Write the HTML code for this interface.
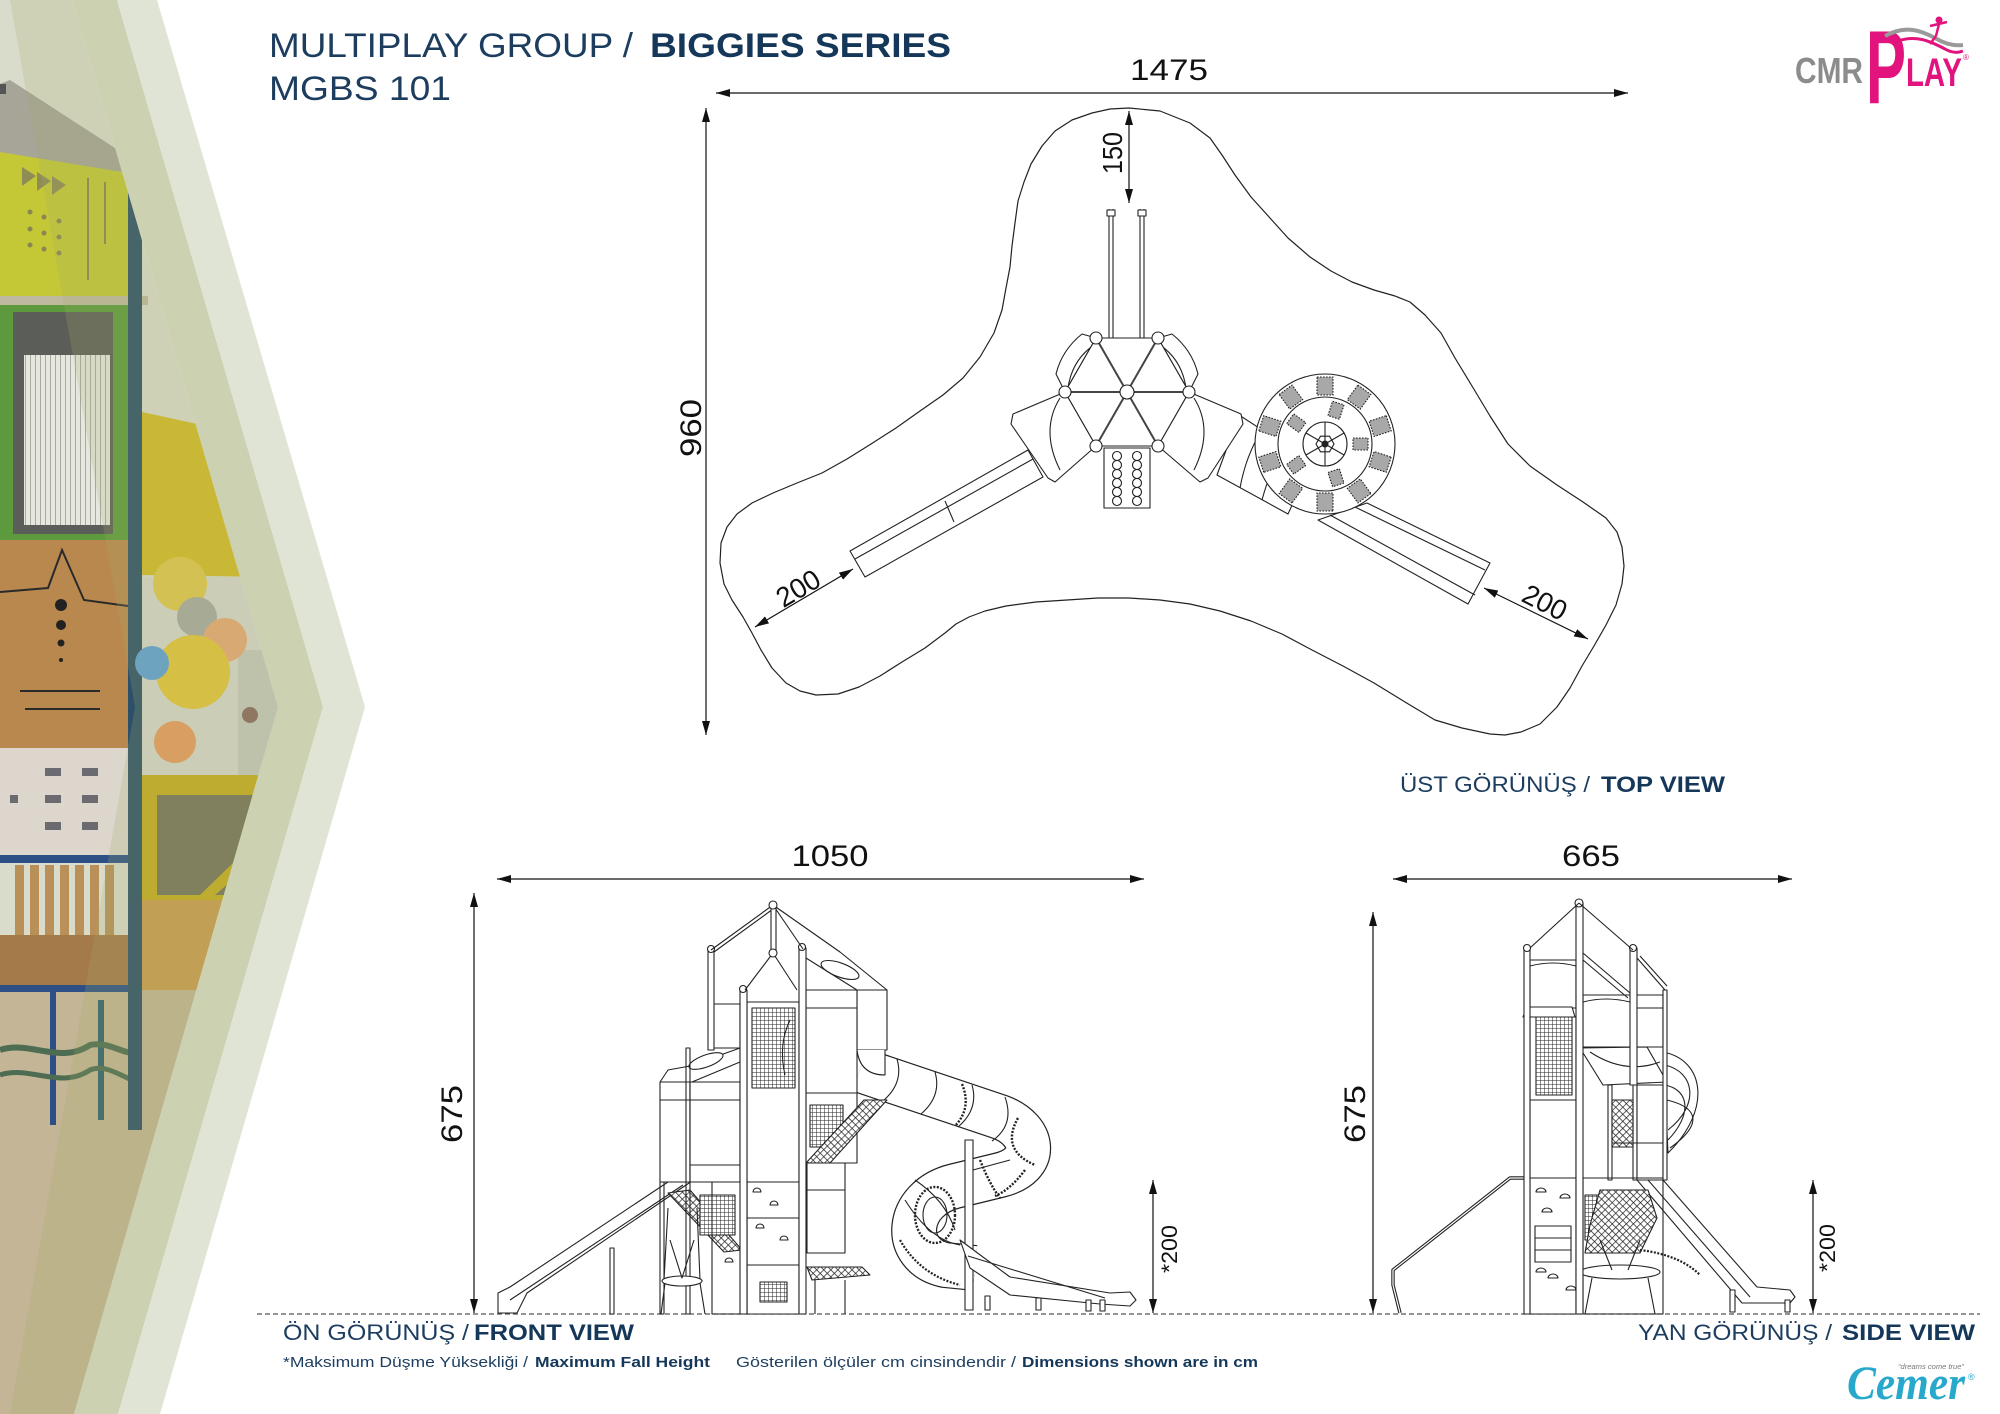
<!DOCTYPE html>
<html><head><meta charset="utf-8">
<style>
html,body{margin:0;padding:0;background:#fff;}
svg{display:block;}
text{font-family:"Liberation Sans",sans-serif;}
</style></head><body>
<svg width="2000" height="1414" viewBox="0 0 2000 1414" xmlns="http://www.w3.org/2000/svg">
<defs>
 <marker id="ar" viewBox="0 0 14 8" refX="14" refY="4" markerWidth="14" markerHeight="8" markerUnits="userSpaceOnUse" orient="auto-start-reverse"><path d="M0,0 L14,4 L0,8 z" fill="#111"/></marker>
 <pattern id="grid" width="4" height="4" patternUnits="userSpaceOnUse"><rect width="4" height="4" fill="#fff"/><path d="M0,0H4M0,0V4" stroke="#222" stroke-width="1"/></pattern>
 <pattern id="net" width="5" height="5" patternUnits="userSpaceOnUse" patternTransform="rotate(45)"><rect width="5" height="5" fill="#fff"/><path d="M0,0H5M0,0V5" stroke="#222" stroke-width="1.4"/></pattern>
 <pattern id="vmesh" width="5" height="6" patternUnits="userSpaceOnUse"><rect width="5" height="6" fill="#e6e7df"/><path d="M0,0V6" stroke="#6a6c66" stroke-width="1"/></pattern>
 <clipPath id="pc"><polygon points="0,0 72,0 278,707 74,1414 0,1414"/></clipPath>
</defs>

<rect width="2000" height="1414" fill="#ffffff"/>

<!-- ================= LEFT PHOTO PANEL ================= -->
<g clip-path="url(#pc)">
 <rect width="300" height="1414" fill="#dadccb"/>
 <polygon points="0,84 10,80 118,150 125,172 0,160" fill="#a6a598"/>
 <rect x="0" y="84" width="6" height="10" fill="#555"/>
 <polygon points="0,152 122,172 128,180 128,308 0,308" fill="#c4c736"/>
 <polygon points="22,167 36,176 22,186" fill="#8f8c55"/>
 <polygon points="37,172 51,181 37,191" fill="#8f8c55"/>
 <polygon points="52,176 66,185 52,195" fill="#8f8c55"/>
 <g fill="#8a8650"><circle cx="30" cy="212" r="2.5"/><circle cx="44" cy="217" r="2.5"/><circle cx="59" cy="221" r="2.5"/><circle cx="30" cy="229" r="2.5"/><circle cx="44" cy="233" r="2.5"/><circle cx="59" cy="237" r="2.5"/><circle cx="30" cy="245" r="2.5"/><circle cx="44" cy="249" r="2.5"/><circle cx="59" cy="253" r="2.5"/></g>
 <rect x="87" y="178" width="2" height="102" fill="#8a8650"/>
 <rect x="104" y="182" width="2" height="62" fill="#8a8650"/>
 <rect x="0" y="300" width="128" height="242" fill="#5d9a3d"/>
 <rect x="0" y="296" width="148" height="9" fill="#bfb9a0"/>
 <rect x="13" y="312" width="100" height="222" fill="#5b5e58"/>
 <rect x="24" y="355" width="86" height="170" fill="url(#vmesh)"/>
 <rect x="0" y="540" width="128" height="208" fill="#b9884f"/>
 <polyline points="0,592 48,588 62,550 84,600 128,606" fill="none" stroke="#2a2a2a" stroke-width="2"/>
 <circle cx="61" cy="605" r="6" fill="#222"/><circle cx="61" cy="625" r="5" fill="#222"/><circle cx="61" cy="643" r="3.5" fill="#222"/><circle cx="61" cy="660" r="2" fill="#222"/>
 <rect x="20" y="690" width="80" height="2" fill="#2a2a2a"/><rect x="25" y="708" width="75" height="2" fill="#2a2a2a"/>
 <rect x="0" y="748" width="128" height="108" fill="#dcd6cc"/>
 <g fill="#6a6a70"><rect x="45" y="768" width="16" height="8"/><rect x="82" y="768" width="16" height="8"/><rect x="45" y="795" width="16" height="8"/><rect x="82" y="795" width="16" height="8"/><rect x="45" y="822" width="16" height="8"/><rect x="82" y="822" width="16" height="8"/><rect x="10" y="795" width="8" height="8"/></g>
 <rect x="0" y="855" width="128" height="8" fill="#2c4f86"/>
 <g fill="#b89058"><rect x="15" y="865" width="9" height="70"/><rect x="30" y="865" width="9" height="70"/><rect x="45" y="865" width="9" height="70"/><rect x="60" y="865" width="9" height="70"/><rect x="75" y="865" width="9" height="70"/><rect x="90" y="865" width="9" height="70"/><rect x="105" y="865" width="9" height="70"/></g>
 <rect x="0" y="935" width="128" height="55" fill="#a57a4a"/>
 <rect x="0" y="990" width="300" height="424" fill="#c3b595"/>
 <rect x="0" y="985" width="140" height="7" fill="#2c4f86"/>
 <rect x="50" y="985" width="6" height="140" fill="#2c4f86"/>
 <rect x="98" y="1000" width="6" height="120" fill="#2f6070"/>
 <path d="M0,1050 C30,1040 60,1065 90,1045 C110,1040 130,1060 140,1050" stroke="#4d6c52" stroke-width="6" fill="none"/>
 <path d="M0,1075 C30,1065 60,1090 90,1070 C110,1062 130,1085 140,1080" stroke="#4d6c52" stroke-width="5" fill="none"/>
 <rect x="128" y="178" width="14" height="952" fill="#2d506a"/>
 <polygon points="142,412 270,440 270,577 142,575" fill="#d2bb28"/>
 <rect x="142" y="577" width="140" height="198" fill="#d6d7cc"/>
 <rect x="238" y="650" width="44" height="125" fill="#c6c8be"/>
 <circle cx="180" cy="584" r="27" fill="#e0c84e"/>
 <circle cx="197" cy="617" r="20" fill="#a8aaa2"/>
 <circle cx="225" cy="640" r="22" fill="#e8a878"/>
 <circle cx="193" cy="672" r="37" fill="#e3c43c"/>
 <circle cx="152" cy="663" r="17" fill="#5fa0d8"/>
 <circle cx="175" cy="742" r="21" fill="#e89a60"/>
 <circle cx="250" cy="715" r="8" fill="#8a6a60"/>
 <rect x="142" y="775" width="140" height="125" fill="#c6ac22"/>
 <rect x="157" y="795" width="110" height="100" fill="#77735c"/>
 <polygon points="200,895 267,830 267,850 215,895" fill="#c6ac22"/>
 <rect x="142" y="900" width="140" height="90" fill="#c99c50"/>
</g>
<polygon points="10,0 72,0 278,707 74,1414 10,1414 135,707" fill="rgb(165,175,105)" fill-opacity="0.22"/>
<polygon points="72,0 117,0 323,707 118,1414 74,1414 278,707" fill="#c8ceab" fill-opacity="0.93"/>
<polygon points="117,0 157,0 365,707 160,1414 118,1414 323,707" fill="#e0e4d4"/>

<!-- ================= TITLES ================= -->
<text x="269" y="57" font-size="34" fill="#1d3d5f" textLength="364" lengthAdjust="spacingAndGlyphs">MULTIPLAY GROUP /</text>
<text x="650" y="57" font-size="34" font-weight="bold" fill="#153759" textLength="301" lengthAdjust="spacingAndGlyphs">BIGGIES SERIES</text>
<text x="269" y="100" font-size="34" fill="#1d3d5f" textLength="182" lengthAdjust="spacingAndGlyphs">MGBS 101</text>

<!-- CMR PLAY logo -->
<text x="1795" y="83" font-size="36" font-weight="bold" fill="#8c8c8c" textLength="68" lengthAdjust="spacingAndGlyphs">CMR</text>
<text x="1866" y="103" font-size="104" font-weight="bold" fill="#e2137d" textLength="40" lengthAdjust="spacingAndGlyphs">P</text>
<text x="1906" y="86" font-size="40" font-weight="bold" fill="#e2137d" textLength="56" lengthAdjust="spacingAndGlyphs">LAY</text>
<path d="M1885,36 C1905,25 1920,30 1935,38 C1945,44 1955,46 1963,45" stroke="#9a9a9a" stroke-width="4" fill="none"/>
<path d="M1895,42 C1915,34 1930,41 1945,49 C1952,53 1958,53 1963,51" stroke="#e2137d" stroke-width="3" fill="none"/>
<circle cx="1939" cy="20" r="3.5" fill="#e2137d"/>
<path d="M1939,24 L1936,36 M1930,26 L1947,22 M1936,36 L1930,44" stroke="#e2137d" stroke-width="2.5" fill="none"/>
<text x="1963" y="60" font-size="8" fill="#e2137d">®</text>

<!-- ================= TOP VIEW ================= -->
<g stroke="#111" stroke-width="1.2" fill="none">
 <line x1="716" y1="93" x2="1628" y2="93" marker-start="url(#ar)" marker-end="url(#ar)"/>
 <line x1="706" y1="108" x2="706" y2="735" marker-start="url(#ar)" marker-end="url(#ar)"/>
 <line x1="1129" y1="111" x2="1129" y2="203" marker-start="url(#ar)" marker-end="url(#ar)"/>
 <line x1="755" y1="627" x2="853" y2="569" marker-start="url(#ar)" marker-end="url(#ar)"/>
 <line x1="1484" y1="588" x2="1588" y2="639" marker-start="url(#ar)" marker-end="url(#ar)"/>
</g>
<g fill="#111">
 <text x="1169" y="80" font-size="30" text-anchor="middle" textLength="78" lengthAdjust="spacingAndGlyphs">1475</text>
 <text transform="translate(701,428) rotate(-90)" font-size="30" text-anchor="middle" textLength="58" lengthAdjust="spacingAndGlyphs">960</text>
 <text transform="translate(1122,153) rotate(-90)" font-size="28" text-anchor="middle" textLength="42" lengthAdjust="spacingAndGlyphs">150</text>
 <text transform="translate(798,588) rotate(-31)" y="10" font-size="28" text-anchor="middle" textLength="46" lengthAdjust="spacingAndGlyphs">200</text>
 <text transform="translate(1545,602) rotate(27)" y="10" font-size="28" text-anchor="middle" textLength="46" lengthAdjust="spacingAndGlyphs">200</text>
</g>

<path fill="none" stroke="#222" stroke-width="1.2" stroke-linejoin="round" d="M1129,108 L1160,111 L1190,123 L1210,138 L1222,155 L1235,175 L1251,197 L1270,218 L1288,238 L1310,257 L1331,271 L1352,282 L1374,290 L1395,296 L1410,302 L1425,315 L1441,333 L1455,358 L1472,386 L1490,416 L1508,444 L1530,466 L1557,485 L1583,502 L1606,518 L1617,532 L1622,547 L1624,566 L1622,584 L1616,605 L1606,625 L1594,646 L1582,666 L1570,688 L1557,707 L1540,724 L1521,732 L1505,735 L1490,734 L1462,728 L1435,720 L1405,702 L1374,683 L1343,666 L1312,650 L1282,634 L1251,621 L1220,611 L1190,604 L1160,600 L1129,598 L1098,598 L1067,600 L1036,602 L1006,606 L985,611 L969,617 L956,624 L945,633 L925,648 L902,662 L880,676 L859,687 L838,694 L816,695 L800,691 L786,683 L772,668 L761,650 L752,633 L743,617 L732,600 L724,584 L720,563 L721,543 L727,527 L737,514 L752,503 L773,493 L797,483 L822,473 L847,459 L871,444 L896,428 L920,411 L943,395 L963,378 L980,357 L994,333 L1002,310 L1006,288 L1010,267 L1012,246 L1015,223 L1018,201 L1024,182 L1031,164 L1042,146 L1055,131 L1072,120 L1092,113 L1110,109 Z"/>

<g stroke="#222" stroke-width="1.1" fill="#fff" stroke-linejoin="round">
 <line x1="1109" y1="209" x2="1109" y2="338"/><line x1="1113" y1="209" x2="1113" y2="338"/>
 <line x1="1140" y1="209" x2="1140" y2="338"/><line x1="1144" y1="209" x2="1144" y2="338"/>
 <rect x="1107" y="210" width="8" height="6"/><rect x="1138" y="210" width="8" height="6"/>
 <polygon points="1028,450 1043,477 865,577 850,551"/>
 <line x1="1033" y1="459" x2="855" y2="559"/>
 <line x1="945" y1="501" x2="954" y2="522"/>
 <polygon points="1239,415 1312,462 1288,514 1217,475"/>
 <path d="M1262,430 Q1246,455 1240,488 M1285,445 Q1270,470 1262,500" fill="none"/>
 <polygon points="1318,520 1367,503 1490,563 1468,604"/>
 <line x1="1330" y1="515" x2="1475" y2="595"/><line x1="1355" y1="507" x2="1485" y2="570"/>
 <path d="M1096,338 L1082,334 Q1062,350 1056,374 L1065,392 Z"/>
 <path d="M1158,338 L1172,334 Q1192,350 1198,374 L1189,392 Z"/>
 <path d="M1065,392 L1013,414 L1011,424 L1048,478 L1055,482 L1096,446 Z"/>
 <path d="M1189,392 L1241,414 L1243,424 L1208,478 L1200,482 L1158,446 Z"/>
 <path d="M1094,345 Q1072,360 1068,388 M1160,345 Q1182,360 1186,388 M1060,398 Q1040,430 1060,470 M1194,398 Q1214,430 1194,470" fill="none"/>
 <polygon points="1189,392 1158,446 1096,446 1065,392 1096,338 1158,338"/>
 <rect x="1104" y="448" width="46" height="60"/>
</g>
<g stroke="#444" stroke-width="2">
 <line x1="1127" y1="392" x2="1189" y2="392"/><line x1="1127" y1="392" x2="1065" y2="392"/>
 <line x1="1127" y1="392" x2="1158" y2="446"/><line x1="1127" y1="392" x2="1096" y2="446"/>
 <line x1="1127" y1="392" x2="1158" y2="338"/><line x1="1127" y1="392" x2="1096" y2="338"/>
</g>
<g stroke="#222" stroke-width="1.1" fill="#fff">
 <circle cx="1127" cy="392" r="7"/><circle cx="1189" cy="392" r="6"/><circle cx="1065" cy="392" r="6"/>
 <circle cx="1158" cy="446" r="6"/><circle cx="1096" cy="446" r="6"/><circle cx="1158" cy="338" r="6"/><circle cx="1096" cy="338" r="6"/>
</g>
<g stroke="#222" stroke-width="1.1" fill="none">
 <circle cx="1117" cy="456" r="4.5"/><circle cx="1137" cy="456" r="4.5"/>
 <circle cx="1117" cy="465" r="4.5"/><circle cx="1137" cy="465" r="4.5"/>
 <circle cx="1117" cy="474" r="4.5"/><circle cx="1137" cy="474" r="4.5"/>
 <circle cx="1117" cy="483" r="4.5"/><circle cx="1137" cy="483" r="4.5"/>
 <circle cx="1117" cy="492" r="4.5"/><circle cx="1137" cy="492" r="4.5"/>
 <circle cx="1117" cy="501" r="4.5"/><circle cx="1137" cy="501" r="4.5"/>
</g>
<g transform="translate(1325,444)" stroke="#222" stroke-width="1.1">
 <circle r="70" fill="#fff"/>
 <circle r="47" fill="none"/>
 <circle r="22" fill="#fff"/>
 <g fill="#a8a8a8" stroke-dasharray="1.6 1.4">
  <rect x="-8" y="-67" width="16" height="18"/>
  <rect x="-8" y="-67" width="16" height="18" transform="rotate(36)"/>
  <rect x="-8" y="-67" width="16" height="18" transform="rotate(72)"/>
  <rect x="-8" y="-67" width="16" height="18" transform="rotate(108)"/>
  <rect x="-8" y="-67" width="16" height="18" transform="rotate(144)"/>
  <rect x="-8" y="-67" width="16" height="18" transform="rotate(180)"/>
  <rect x="-8" y="-67" width="16" height="18" transform="rotate(216)"/>
  <rect x="-8" y="-67" width="16" height="18" transform="rotate(252)"/>
  <rect x="-8" y="-67" width="16" height="18" transform="rotate(288)"/>
  <rect x="-8" y="-67" width="16" height="18" transform="rotate(324)"/>
  <rect x="-6" y="-43" width="12" height="15" transform="rotate(18)"/>
  <rect x="-6" y="-43" width="12" height="15" transform="rotate(90)"/>
  <rect x="-6" y="-43" width="12" height="15" transform="rotate(162)"/>
  <rect x="-6" y="-43" width="12" height="15" transform="rotate(234)"/>
  <rect x="-6" y="-43" width="12" height="15" transform="rotate(306)"/>
 </g>
 <polygon points="9,0 4.5,7.8 -4.5,7.8 -9,0 -4.5,-7.8 4.5,-7.8" fill="#fff"/>
 <circle r="3" fill="#222"/>
 <path d="M0,-22 V22 M-19,-11 L19,11 M-19,11 L19,-11" fill="none"/>
</g>

<text x="1400" y="792" font-size="22" fill="#1d3d5f" textLength="190" lengthAdjust="spacingAndGlyphs">ÜST GÖRÜNÜŞ /</text>
<text x="1601" y="792" font-size="22" font-weight="bold" fill="#153759" textLength="124" lengthAdjust="spacingAndGlyphs">TOP VIEW</text>

<!-- ================= GROUND & DIMS ================= -->
<line x1="257" y1="1314" x2="1980" y2="1314" stroke="#555" stroke-width="1.2" stroke-dasharray="5 3"/>
<g stroke="#111" stroke-width="1.2" fill="none">
 <line x1="497" y1="879" x2="1144" y2="879" marker-start="url(#ar)" marker-end="url(#ar)"/>
 <line x1="474" y1="893" x2="474" y2="1313" marker-start="url(#ar)" marker-end="url(#ar)"/>
 <line x1="1153" y1="1180" x2="1153" y2="1313" marker-start="url(#ar)" marker-end="url(#ar)"/>
 <line x1="1393" y1="879" x2="1792" y2="879" marker-start="url(#ar)" marker-end="url(#ar)"/>
 <line x1="1373" y1="912" x2="1373" y2="1313" marker-start="url(#ar)" marker-end="url(#ar)"/>
 <line x1="1813" y1="1180" x2="1813" y2="1313" marker-start="url(#ar)" marker-end="url(#ar)"/>
</g>
<g fill="#111">
 <text x="830" y="866" font-size="30" text-anchor="middle" textLength="77" lengthAdjust="spacingAndGlyphs">1050</text>
 <text x="1591" y="866" font-size="30" text-anchor="middle" textLength="58" lengthAdjust="spacingAndGlyphs">665</text>
 <text transform="translate(462,1114) rotate(-90)" font-size="30" text-anchor="middle" textLength="58" lengthAdjust="spacingAndGlyphs">675</text>
 <text transform="translate(1365,1114) rotate(-90)" font-size="30" text-anchor="middle" textLength="58" lengthAdjust="spacingAndGlyphs">675</text>
 <text transform="translate(1177,1249) rotate(-90)" font-size="22" text-anchor="middle" textLength="48" lengthAdjust="spacingAndGlyphs">*200</text>
 <text transform="translate(1835,1248) rotate(-90)" font-size="22" text-anchor="middle" textLength="48" lengthAdjust="spacingAndGlyphs">*200</text>
</g>

<!-- ================= FRONT VIEW ================= -->
<g stroke="#222" stroke-width="1.1" fill="#fff" stroke-linejoin="round">
 <path d="M860,1070 L1000,1117 C1035,1130 1040,1165 1000,1175 L955,1186 C905,1198 900,1255 945,1265 L975,1268" fill="none" stroke="#222" stroke-width="46" stroke-linecap="butt"/>
 <path d="M860,1070 L1000,1117 C1035,1130 1040,1165 1000,1175 L955,1186 C905,1198 900,1255 945,1265 L975,1268" fill="none" stroke="#fff" stroke-width="43.6" stroke-linecap="butt"/>
 <path d="M897,1059 Q904,1083 883,1101 M935,1072 Q942,1096 921,1114 M972,1085 Q979,1109 958,1127 M1005,1097 Q1015,1125 992,1141" fill="none"/>
 <path d="M962,1084 Q972,1108 955,1126 M1018,1118 Q1000,1150 1035,1165 M980,1160 Q990,1185 1000,1198 M1025,1170 Q1010,1190 995,1196" fill="none" stroke-dasharray="2 1.5" stroke-width="2.4"/>
 <ellipse cx="935" cy="1215" rx="20" ry="28" fill="none" stroke-dasharray="2 1.5" stroke-width="2.4"/>
 <ellipse cx="935" cy="1215" rx="12" ry="18" fill="none"/>
 <path d="M905,1200 Q930,1240 960,1245 M915,1180 Q945,1200 955,1230" fill="none"/>
 <path d="M900,1240 Q920,1275 960,1285" fill="none" stroke-dasharray="2 1.5" stroke-width="2.2"/>
 <rect x="965" y="1140" width="8" height="170"/>
 <line x1="973" y1="1170" x2="1010" y2="1160"/>
 <polygon points="960,1240 1010,1277 1110,1293 1130,1292 1136,1300 1130,1306 1100,1304 1010,1295 970,1268"/>
 <line x1="968" y1="1256" x2="1105" y2="1298"/>
 <rect x="985" y="1296" width="5" height="14"/><rect x="1036" y="1298" width="5" height="12"/><rect x="1086" y="1300" width="5" height="11"/><rect x="1100" y="1300" width="5" height="11"/>
 <polygon points="674,1178 692,1181 527,1293 517,1313 498,1313 498,1293 510,1287"/>
 <line x1="683" y1="1185" x2="510" y2="1300"/>
 <rect x="610" y="1248" width="4" height="66"/>
 <rect x="660" y="1082" width="30" height="100"/>
 <polygon points="660,1082 668,1070 690,1066 740,1048 740,1062 692,1082"/>
 <ellipse cx="706" cy="1061" rx="18" ry="6" transform="rotate(-20 706 1061)"/>
 <line x1="660" y1="1100" x2="690" y2="1100"/>
 <rect x="690" y="1082" width="50" height="100"/>
 <line x1="690" y1="1100" x2="740" y2="1100"/>
 <line x1="690" y1="1165" x2="740" y2="1165"/>
 <rect x="712" y="1004" width="28" height="44"/>
 <rect x="857" y="990" width="30" height="60"/>
 <path d="M857,1050 Q860,1075 885,1075 L885,1050" fill="#fff"/>
 <rect x="806" y="990" width="51" height="173"/>
 <line x1="806" y1="1008" x2="857" y2="1008"/>
 <line x1="806" y1="1093" x2="857" y2="1093"/>
 <rect x="810" y="1105" width="33" height="42" fill="url(#grid)"/>
 <polygon points="806,1163 830,1163 887,1100 864,1100" fill="url(#net)"/>
 <ellipse cx="840" cy="970" rx="20" ry="7" transform="rotate(20 840 970)"/>
 <rect x="747" y="1002" width="52" height="180"/>
 <rect x="752" y="1008" width="43" height="80" fill="url(#grid)"/>
 <path d="M790,1020 Q778,1045 785,1075" fill="none"/>
 <polygon points="668,1193 690,1190 742,1250 724,1252" fill="url(#net)"/>
 <rect x="700" y="1195" width="35" height="40" fill="url(#grid)"/>
 <rect x="747" y="1182" width="52" height="132"/>
 <rect x="760" y="1282" width="27" height="20" fill="url(#grid)"/>
 <line x1="747" y1="1218" x2="799" y2="1218"/>
 <line x1="747" y1="1265" x2="799" y2="1265"/>
 <path d="M753,1192 a4,4 0 0 1 8,0 z M770,1205 a4,4 0 0 1 8,0 z M756,1228 a4,4 0 0 1 8,0 z M780,1240 a4,4 0 0 1 8,0 z M725,1262 a4,4 0 0 1 8,0 z"/>
 <rect x="712" y="1182" width="35" height="132" fill="none"/>
 <rect x="807" y="1163" width="38" height="90"/>
 <line x1="807" y1="1190" x2="845" y2="1190"/>
 <polygon points="807,1267 862,1267 870,1275 812,1280" fill="url(#net)"/>
 <line x1="815" y1="1280" x2="815" y2="1314"/><line x1="845" y1="1280" x2="845" y2="1314"/>
 <rect x="708" y="950" width="6" height="100"/>
 <rect x="740" y="990" width="7" height="324"/>
 <rect x="799" y="948" width="7" height="366"/>
 <rect x="686" y="1048" width="4" height="266" fill="none"/>
 <rect x="660" y="1182" width="4" height="132" fill="none"/>
 <circle cx="711" cy="949" r="3.5"/><circle cx="743" cy="989" r="3.5"/><circle cx="802" cy="947" r="3.5"/>
 <path d="M773,905 L711,950 M773,909 L714,952 M773,905 L803,949 M773,905 L840,952 M806,958 L857,990 M840,952 L887,990 M773,953 L745,990 M773,953 L797,990" fill="none"/>
 <rect x="771" y="905" width="5" height="48"/>
 <circle cx="773" cy="905" r="4"/><circle cx="773" cy="953" r="4"/>
 <path d="M668,1208 L664,1280 M697,1208 L700,1280 M665,1283 L661,1314 M700,1283 L705,1314" fill="none"/>
 <ellipse cx="682" cy="1281" rx="20" ry="5"/>
 <path d="M670,1240 L682,1278 L694,1240" fill="none"/>
</g>

<text x="283" y="1340" font-size="22" fill="#1d3d5f" textLength="186" lengthAdjust="spacingAndGlyphs">ÖN GÖRÜNÜŞ /</text>
<text x="474" y="1340" font-size="22" font-weight="bold" fill="#153759" textLength="160" lengthAdjust="spacingAndGlyphs">FRONT VIEW</text>

<!-- ================= SIDE VIEW ================= -->
<g stroke="#222" stroke-width="1.1" fill="#fff" stroke-linejoin="round">
 <path d="M1663,1052 C1705,1060 1712,1110 1668,1153 Z"/>
 <path d="M1665,1065 C1695,1072 1700,1105 1668,1130 M1665,1085 C1690,1090 1692,1115 1668,1140 M1667,1100 C1700,1108 1702,1125 1670,1148" fill="none"/>
 <polygon points="1637,1180 1663,1180 1757,1287 1790,1290 1795,1297 1790,1303 1742,1303"/>
 <line x1="1648" y1="1180" x2="1750" y2="1297"/>
 <rect x="1730" y="1290" width="5" height="22"/><rect x="1785" y="1300" width="5" height="12"/>
 <polyline points="1524,1178 1510,1178 1393,1270 1393,1285 1400,1313" fill="none" stroke-width="3.4"/>
 <polyline points="1524,1178 1510,1178 1393,1270 1393,1285 1400,1313" fill="none" stroke="#fff" stroke-width="1.2"/>
 <rect x="1530" y="960" width="46" height="48"/>
 <path d="M1530,966 Q1553,960 1576,966" fill="none"/>
 <polygon points="1523,1017 1575,1017 1572,1007 1527,1007"/>
 <rect x="1530" y="1017" width="46" height="161"/>
 <rect x="1536" y="1017" width="36" height="78" fill="url(#grid)"/>
 <line x1="1530" y1="1100" x2="1576" y2="1100"/>
 <rect x="1530" y="1178" width="46" height="136"/>
 <path d="M1536,1192 a5,4 0 0 1 10,0 z M1560,1198 a5,4 0 0 1 10,0 z M1542,1212 a5,4 0 0 1 10,0 z M1548,1278 a5,4 0 0 1 10,0 z M1566,1290 a5,4 0 0 1 10,0 z M1536,1272 a5,4 0 0 1 10,0 z"/>
 <rect x="1535" y="1226" width="36" height="36"/>
 <line x1="1535" y1="1238" x2="1571" y2="1238"/><line x1="1535" y1="1250" x2="1571" y2="1250"/>
 <rect x="1583" y="995" width="80" height="52"/>
 <path d="M1583,1002 Q1606,996 1630,1002" fill="none"/>
 <line x1="1637" y1="1008" x2="1663" y2="1008"/>
 <polygon points="1580,1048 1647,1047 1667,1082 1603,1085"/>
 <path d="M1590,1052 Q1625,1075 1660,1062" fill="none"/>
 <rect x="1608" y="1085" width="4" height="95"/>
 <rect x="1633" y="1085" width="4" height="95"/>
 <rect x="1637" y="1085" width="26" height="95"/>
 <rect x="1612" y="1100" width="21" height="47" fill="url(#net)"/>
 <line x1="1612" y1="1143" x2="1663" y2="1143"/>
 <rect x="1583" y="1178" width="80" height="136" fill="none"/>
 <rect x="1585" y="1195" width="15" height="45" fill="url(#grid)"/>
 <polygon points="1600,1190 1648,1190 1657,1218 1640,1253 1585,1253 1590,1225" fill="url(#net)"/>
 <path d="M1640,1250 Q1680,1255 1700,1275" fill="none" stroke-dasharray="2 1.5" stroke-width="2.2"/>
 <ellipse cx="1620" cy="1272" rx="40" ry="7"/>
 <path d="M1600,1240 L1612,1270 M1640,1240 L1628,1270 M1592,1278 L1585,1314 M1648,1278 L1655,1314" fill="none"/>
 <rect x="1524" y="948" width="6" height="366"/>
 <rect x="1576" y="903" width="7" height="411"/>
 <rect x="1630" y="948" width="7" height="137"/>
 <rect x="1663" y="990" width="4" height="190"/>
 <circle cx="1527" cy="948" r="3.5"/><circle cx="1579" cy="903" r="4"/><circle cx="1633" cy="948" r="3.5"/>
 <path d="M1579,903 L1530,948 M1579,903 L1633,950 M1637,958 L1665,990 M1640,956 L1667,986 M1583,953 L1630,993 M1583,960 L1628,998" fill="none"/>
</g>

<text x="1638" y="1340" font-size="22" fill="#1d3d5f" textLength="194" lengthAdjust="spacingAndGlyphs">YAN GÖRÜNÜŞ /</text>
<text x="1842" y="1340" font-size="22" font-weight="bold" fill="#153759" textLength="133" lengthAdjust="spacingAndGlyphs">SIDE VIEW</text>

<!-- ================= FOOTER ================= -->
<text x="283" y="1367" font-size="15" fill="#1d3d5f" textLength="245" lengthAdjust="spacingAndGlyphs">*Maksimum Düşme Yüksekliği /</text>
<text x="535" y="1367" font-size="15" font-weight="bold" fill="#153759" textLength="175" lengthAdjust="spacingAndGlyphs">Maximum Fall Height</text>
<text x="736" y="1367" font-size="15" fill="#1d3d5f" textLength="280" lengthAdjust="spacingAndGlyphs">Gösterilen ölçüler cm cinsindendir /</text>
<text x="1022" y="1367" font-size="15" font-weight="bold" fill="#153759" textLength="236" lengthAdjust="spacingAndGlyphs">Dimensions shown are in cm</text>

<!-- Cemer logo -->
<text x="1847" y="1399" style="font-family:'Liberation Serif',serif;font-style:italic;font-weight:bold;" font-size="48" fill="#28a9cb" textLength="118" lengthAdjust="spacingAndGlyphs">Cemer</text>
<text x="1898" y="1369" font-size="7" font-style="italic" fill="#777" textLength="66" lengthAdjust="spacingAndGlyphs">“dreams come true”</text>
<text x="1968" y="1380" font-size="9" fill="#28a9cb">®</text>
</svg>
</body></html>
